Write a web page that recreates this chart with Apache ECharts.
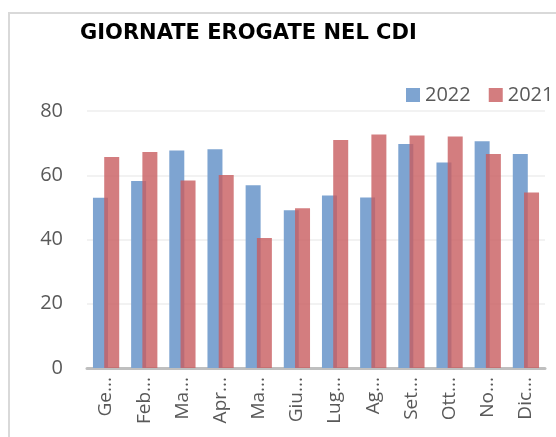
<!DOCTYPE html>
<html>
<head>
<meta charset="utf-8">
<script src="https://cdn.jsdelivr.net/npm/echarts@6/dist/echarts.min.js"></script>
<style>
  html, body { margin: 0; padding: 0; background: #fff; }
  #chart { width: 556px; height: 437px; }
</style>
</head>
<body>
<div id="chart"></div>
<script>
// dati
const months = ["Gennaio", "Febbraio", "Marzo", "Aprile", "Maggio", "Giugno",
    "Luglio", "Agosto", "Settembre", "Ottobre", "Novembre", "Dicembre"];
const tickLabels = ["Ge...", "Feb...", "Ma...", "Apr...", "Ma...", "Giu...",
    "Lug...", "Ag...", "Set...", "Ott...", "No...", "Dic..."];
const values2022 = [53.0, 58.2, 67.7, 68.1, 56.9, 49.1, 53.7, 53.1, 69.7, 64.0, 70.6, 66.6];
const values2021 = [65.7, 67.2, 58.4, 60.1, 40.5, 49.7, 71.0, 72.7, 72.4, 72.1, 66.6, 54.6];
const yTicks = [0, 20, 40, 60, 80];

const chart = echarts.init(document.getElementById('chart'));
const textColor = '#595959';
const font = '"Open Sans", sans-serif';

chart.setOption({
    animation: false,
    textStyle: { fontFamily: font },
    graphic: [{
        type: 'rect',
        shape: { x: 9, y: 13, width: 620, height: 520 },
        style: { fill: 'none', stroke: '#D9D9D9', lineWidth: 2 },
        silent: true
    }],
    title: {
        text: 'GIORNATE EROGATE NEL CDI',
        left: 75, top: 18,
        textStyle: { fontFamily: '"DejaVu Sans", sans-serif', fontWeight: 'bold', fontSize: 21, color: '#000' }
    },
    legend: {
        data: ['2022', '2021'],
        left: 401, top: 80, width: 300,
        itemWidth: 14, itemHeight: 14, itemGap: 18,
        icon: 'rect',
        textStyle: { fontFamily: font, fontSize: 20, color: textColor }
    },
    grid: { left: 87, right: 11, top: 111, bottom: 69 },
    xAxis: {
        type: 'category',
        data: months,
        axisLine: { lineStyle: { color: '#BFBFBF', width: 3 } },
        axisTick: { show: false },
        axisLabel: {
            rotate: 90, margin: 9, interval: 0,
            fontFamily: font, fontSize: 19, color: textColor,
            formatter: (v, i) => tickLabels[i]
        }
    },
    yAxis: {
        type: 'value',
        min: yTicks[0], max: yTicks[yTicks.length - 1], interval: 20,
        axisLine: { show: false },
        axisTick: { show: false },
        splitLine: { lineStyle: { color: '#EEEEEE', width: 1.5 } },
        axisLabel: { fontFamily: font, fontSize: 20, color: textColor, margin: 24 }
    },
    series: [{
        name: '2022',
        type: 'bar',
        data: values2022,
        barWidth: 15,
        barGap: '-25%',
        itemStyle: { color: '#7EA4D1' }
    }, {
        name: '2021',
        type: 'bar',
        data: values2021,
        barWidth: 15,
        itemStyle: { color: 'rgba(200,93,95,0.8)' }
    }]
});
</script>
</body>
</html>
